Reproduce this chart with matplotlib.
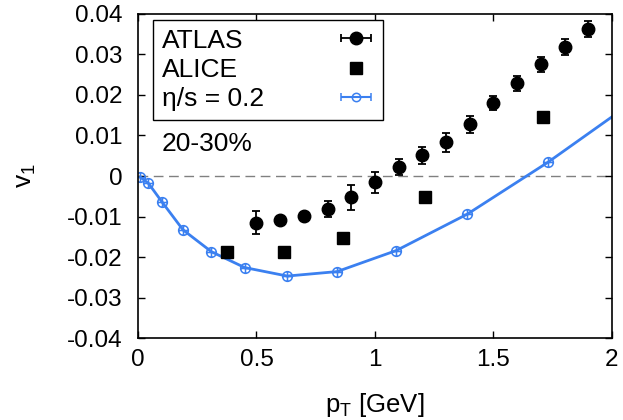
import numpy as np
import matplotlib
matplotlib.use('Agg')
import matplotlib.pyplot as plt
from matplotlib.path import Path
from matplotlib.legend_handler import HandlerErrorbar
from matplotlib.ticker import FuncFormatter, MultipleLocator

plt.rcParams['font.family'] = ['Liberation Sans', 'DejaVu Sans']
plt.rcParams['mathtext.fontset'] = 'custom'
plt.rcParams['mathtext.rm'] = 'Liberation Sans'
plt.rcParams['mathtext.it'] = 'Liberation Sans'
plt.rcParams['axes.unicode_minus'] = False

# ATLAS data (pT, v1, error)
atlas_pt = [0.5, 0.6, 0.7, 0.8, 0.9, 1.0, 1.1, 1.2, 1.3, 1.4, 1.5, 1.6, 1.7, 1.8, 1.9]
atlas_v1 = [-0.0115, -0.0108, -0.0098, -0.0081, -0.0053, -0.0016, 0.0022, 0.0051,
            0.0083, 0.0128, 0.0180, 0.0229, 0.0276, 0.0318, 0.0362]
atlas_err = [0.0029, 0.0010, 0.0010, 0.0019, 0.0031, 0.0025, 0.0019, 0.0021,
             0.0024, 0.0021, 0.0017, 0.0018, 0.0019, 0.0020, 0.0020]

# ALICE data
alice_pt = [0.374, 0.617, 0.864, 1.21, 1.71]
alice_v1 = [-0.0187, -0.0187, -0.0152, -0.0051, 0.0145]

# hydro calculation, eta/s = 0.2
theo_pt = [0.01, 0.044, 0.10, 0.19, 0.31, 0.45, 0.63, 0.84, 1.09, 1.39, 1.73, 2.12]
theo_v1 = [-0.0003, -0.0018, -0.0063, -0.0133, -0.0187, -0.0226, -0.0247, -0.0236,
           -0.0184, -0.0094, 0.0034, 0.0196]

blue = '#3b80f0'

# circle with a cross inside
oplus = Path.make_compound_path(
    Path.unit_circle(),
    Path([[-1, 0], [1, 0]], [Path.MOVETO, Path.LINETO]),
    Path([[0, -1], [0, 1]], [Path.MOVETO, Path.LINETO]))

fig = plt.figure(figsize=(6.23, 4.2), dpi=100)
ax = fig.add_axes([0.2215, 0.1952, 0.7608, 0.7715])

ax.axhline(0, color='#808080', lw=1.0, dashes=(7, 4), zorder=1)

ax.plot(theo_pt, theo_v1, '-', color=blue, lw=2.0, marker=oplus, ms=7,
        mfc='none', mec=blue, mew=1.1, zorder=2)
ax.errorbar(atlas_pt, atlas_v1, yerr=atlas_err, fmt='o', color='black', ms=9,
            elinewidth=1.3, capsize=3, capthick=1.3, zorder=3)
ax.plot(alice_pt, alice_v1, 's', color='black', ms=9, zorder=3)

# legend proxies (horizontal error bar style)
h_atlas = ax.errorbar([np.nan], [np.nan], xerr=[1], fmt='o', color='black', ms=9,
                      elinewidth=1.3, capsize=3, capthick=1.3)
h_alice, = ax.plot([np.nan], [np.nan], 's', color='black', ms=9)
h_theo = ax.errorbar([np.nan], [np.nan], xerr=[1], fmt='o', color=blue, ms=6,
                     mfc='none', mew=1.1, elinewidth=1.5, capsize=3, capthick=1.5)

leg = ax.legend([h_atlas, h_alice, h_theo], ['ATLAS', 'ALICE', 'η/s = 0.2'],
                loc='upper left', bbox_to_anchor=(0.032, 0.981), borderaxespad=0,
                markerfirst=False, fancybox=False, edgecolor='black', framealpha=1,
                fontsize=19, borderpad=0.32, handlelength=1.4, handletextpad=2.8,
                labelspacing=0.2,
                handler_map={type(h_atlas): HandlerErrorbar(xerr_size=0.57)})
leg.get_frame().set_linewidth(1.0)

ax.text(0.05, 0.60, '20-30%', transform=ax.transAxes, fontsize=19, va='center')

ax.set_xlim(0, 2)
ax.set_ylim(-0.04, 0.04)
ax.xaxis.set_major_locator(MultipleLocator(0.5))
ax.yaxis.set_major_locator(MultipleLocator(0.01))
ax.xaxis.set_major_formatter(FuncFormatter(lambda v, p: '%g' % round(v, 3)))
ax.yaxis.set_major_formatter(FuncFormatter(lambda v, p: '%g' % round(v, 3)))
ax.tick_params(direction='in', length=5, width=1, top=True, right=True, labelsize=17.5)
ax.tick_params(axis='y', pad=11)
ax.tick_params(axis='x', pad=8)
for s in ax.spines.values():
    s.set_linewidth(1.2)

ax.set_xlabel('p$_\\mathrm{T}$ [GeV]', fontsize=18.5, labelpad=14)
ax.set_ylabel('v$_1$', fontsize=19, labelpad=21)

# left-align the legend labels while keeping symbols in a right column
fig.canvas.draw()
r = fig.canvas.get_renderer()
widths = [t.get_window_extent(r).width for t in leg.get_texts()]
wmax = max(widths)
col = leg._legend_handle_box.get_children()[0]
for row, w in zip(col.get_children(), widths):
    row.sep += (wmax - w) * 72.0 / fig.dpi

fig.savefig('out.png', dpi=100)
